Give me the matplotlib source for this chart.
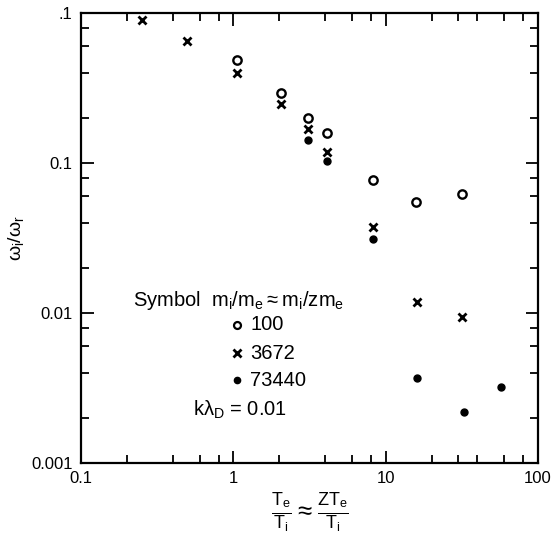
import numpy as np
import matplotlib
matplotlib.use("Agg")
import matplotlib.pyplot as plt
from matplotlib.ticker import FixedLocator, FixedFormatter, NullFormatter

plt.rcParams['font.family'] = ['Liberation Sans', 'DejaVu Sans']
plt.rcParams['mathtext.default'] = 'regular'

# data
x_100 = [1.05, 2.05, 3.1, 4.1, 8.3, 15.7, 31.5]
y_100 = [0.486, 0.293, 0.20, 0.158, 0.077, 0.055, 0.062]

x_3672 = [0.25, 0.5, 1.05, 2.05, 3.1, 4.1, 8.3, 16.1, 31.5]
y_3672 = [0.90, 0.65, 0.40, 0.247, 0.169, 0.118, 0.0374, 0.0118, 0.0094]

x_73440 = [3.1, 4.1, 8.3, 16.1, 32.5, 57.0]
y_73440 = [0.142, 0.103, 0.031, 0.00369, 0.00219, 0.0032]

xticks = [0.1, 1, 10, 100]
xticklabels = ['0.1', '1', '10', '100']
yticks = [0.001, 0.01, 0.1, 1]
yticklabels = ['0.001', '0.01', '0.1', '.1']

fig = plt.figure(figsize=(5.56, 5.47), dpi=100)
ax = fig.add_axes([0.1457, 0.1536, 0.8219, 0.8226])

ax.set_xscale('log')
ax.set_yscale('log')
ax.set_xlim(0.1, 100)
ax.set_ylim(0.001, 1)

ax.plot(x_100, y_100, 'o', mfc='white', mec='black', mew=1.7, ms=6, ls='none')
ax.plot(x_3672, y_3672, 'x', color='black', mew=2.0, ms=6, ls='none')
ax.plot(x_73440, y_73440, 'o', color='black', ms=5, ls='none')

ax.xaxis.set_major_locator(FixedLocator(xticks))
ax.xaxis.set_major_formatter(FixedFormatter(xticklabels))
xminor = [0.2, 0.4, 0.6, 0.8, 2, 4, 6, 8, 20, 30, 40, 60, 80]
ax.xaxis.set_minor_locator(FixedLocator(xminor))
ax.xaxis.set_minor_formatter(NullFormatter())

ax.yaxis.set_major_locator(FixedLocator(yticks))
ax.yaxis.set_major_formatter(FixedFormatter(yticklabels))
yminor = [0.002, 0.004, 0.006, 0.008, 0.02, 0.04, 0.06, 0.08, 0.2, 0.4, 0.6, 0.8]
ax.yaxis.set_minor_locator(FixedLocator(yminor))
ax.yaxis.set_minor_formatter(NullFormatter())

ax.tick_params(which='both', direction='in', top=True, right=True, width=1.3)
ax.tick_params(which='major', length=9, labelsize=12, pad=6)
ax.tick_params(which='minor', length=5.5)
for s in ax.spines.values():
    s.set_linewidth(1.6)

ax.set_xlabel(r'$\frac{T_e}{T_i} \approx \frac{ZT_e}{T_i}$', fontsize=18.5, labelpad=3)
ax.set_ylabel(r'$\omega_i/\omega_r$', fontsize=14, labelpad=4)

# legend block
fs = 14.5
ax.text(0.114, 0.362, r'Symbol  $m_i/m_e \approx m_i/zm_e$', transform=ax.transAxes,
        fontsize=fs, va='center', ha='left')
ax.plot([0.341], [0.307], 'o', mfc='white', mec='black', mew=1.6, ms=5, transform=ax.transAxes)
ax.plot([0.341], [0.244], 'x', color='black', mew=2.0, ms=6, transform=ax.transAxes)
ax.plot([0.341], [0.184], 'o', color='black', ms=4.5, transform=ax.transAxes)
for yy, lab in zip([0.307, 0.244, 0.184], ['100', '3672', '73440']):
    ax.text(0.370, yy, lab, transform=ax.transAxes, fontsize=fs, va='center', ha='left')
ax.text(0.245, 0.118, r'k$\lambda_D$ = 0.01', transform=ax.transAxes,
        fontsize=fs, va='center', ha='left')

fig.savefig('out.png', dpi=100)
